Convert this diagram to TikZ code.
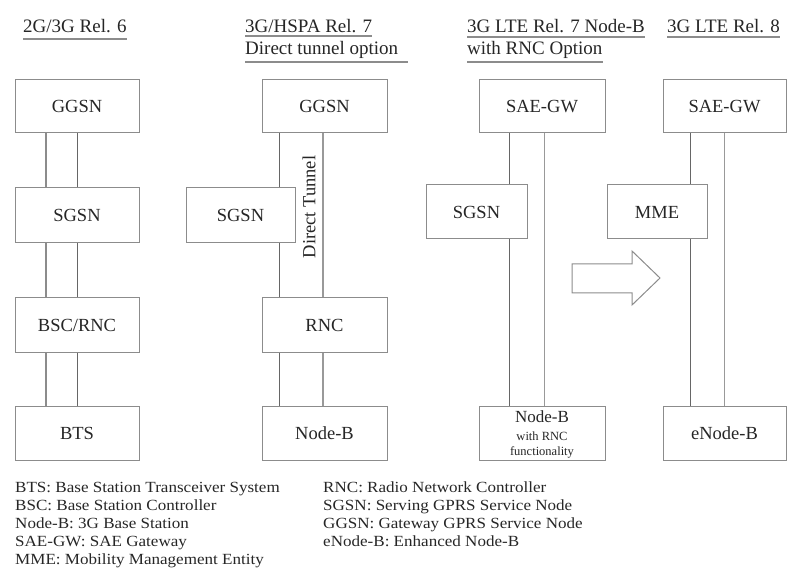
\documentclass[tikz,border=0pt]{standalone}
\usepackage{fontspec}
\setmainfont{Liberation Serif}
\newfontfamily\legendfont[FakeStretch=1.1]{Liberation Serif}
\begin{document}
\begin{tikzpicture}[x=1pt,y=-1pt,
  box/.style={draw=black!45, line width=1pt, inner sep=0pt, text=black!85,
    font=\fontsize{18.5}{20}\selectfont},
  title/.style={inner sep=0pt, anchor=base west, text=black!85,
    font=\fontsize{19}{20}\selectfont},
  uline/.style={draw=black!45, line width=1.2pt},
  link/.style={draw=black!60, line width=1pt},
  thick link/.style={draw=black!45, line width=2.8pt},
  light link/.style={draw=black!40, line width=1pt},
  legend/.style={inner sep=0pt, anchor=north west, align=left, text=black!85,
    font=\legendfont\fontsize{15.5}{18}\selectfont}]
\useasboundingbox (0,0) rectangle (787,569);

% titles
\node[title] (t1) at (23,33) {2G/3G Rel. 6};
\node[title] (t2a) at (245,33) {3G/HSPA Rel. 7};
\node[title] (t2b) at (245,55) {Direct tunnel option};
\node[title] (t3a) at (467,33) {3G LTE Rel. 7 Node-B};
\node[title] (t3b) at (467,55) {with RNC Option};
\node[title] (t4) at (667,33) {3G LTE Rel. 8};
\draw[uline] ([yshift=-6pt]t1.base west) -- ([yshift=-6pt]t1.base east);
\draw[uline] ([yshift=-3pt]t2a.base west) -- ([yshift=-3pt]t2a.base east);
\draw[uline] ([yshift=-7pt]t2b.base west) -- ([yshift=-7pt,xshift=10pt]t2b.base east);
\draw[uline] ([yshift=-4pt]t3a.base west) -- ([yshift=-4pt]t3a.base east);
\draw[uline] ([yshift=-7pt]t3b.base west) -- ([yshift=-7pt]t3b.base east);
\draw[uline] ([yshift=-4pt]t4.base west) -- ([yshift=-4pt]t4.base east);

% column 1
\node[box, minimum width=124pt, minimum height=53pt] (ggsn1) at (77,106.5) {GGSN};
\node[box, minimum width=124pt, minimum height=55pt] (sgsn1) at (77,215.5) {SGSN};
\node[box, minimum width=124pt, minimum height=54pt] (bsc1) at (77,325) {BSC/RNC};
\node[box, minimum width=124pt, minimum height=54pt] (bts1) at (77,433) {BTS};
\draw[thick link] (46,0 |- ggsn1.south) -- (46,0 |- sgsn1.north);
\draw[link] (ggsn1.south) -- (sgsn1.north);
\draw[thick link] (46,0 |- sgsn1.south) -- (46,0 |- bsc1.north);
\draw[link] (sgsn1.south) -- (bsc1.north);
\draw[thick link] (46,0 |- bsc1.south) -- (46,0 |- bts1.north);
\draw[link] (bsc1.south) -- (bts1.north);

% column 2
\node[box, minimum width=125pt, minimum height=53pt] (ggsn2) at (324.5,106.5) {GGSN};
\node[box, minimum width=109pt, minimum height=55pt] (sgsn2) at (240.5,215.5) {SGSN};
\node[box, minimum width=125pt, minimum height=54pt] (rnc2) at (324.5,325) {RNC};
\node[box, minimum width=125pt, minimum height=54pt] (nodeb2) at (324.5,433) {Node-B};
\draw[link] (279,0 |- ggsn2.south) -- (279,0 |- sgsn2.north);
\draw[link] (279,0 |- sgsn2.south) -- (279,0 |- rnc2.north);
\draw[light link, line width=1.8pt] (323,0 |- ggsn2.south) -- (323,0 |- rnc2.north);
\draw[link] (279,0 |- rnc2.south) -- (279,0 |- nodeb2.north);
\draw[light link, line width=1.5pt] (323,0 |- rnc2.south) -- (323,0 |- nodeb2.north);
\node[rotate=90, inner sep=0pt, text=black!85, font=\fontsize{18.5}{20}\selectfont] (dt) at (309,207) {Direct Tunnel};

% column 3
\node[box, minimum width=126pt, minimum height=53pt] (saegw3) at (542,106.5) {SAE-GW};
\node[box, minimum width=101pt, minimum height=54pt] (sgsn3) at (476.5,212) {SGSN};
\node[box, minimum width=126pt, minimum height=54pt] (nodeb3) at (542,433) {};
\node[inner sep=0pt, anchor=base, text=black!85, font=\fontsize{17}{18}\selectfont] (nb3a) at (542,422) {Node-B};
\node[inner sep=0pt, anchor=base, text=black!85, font=\fontsize{12.5}{13}\selectfont] (nb3b) at (542,440) {with RNC};
\node[inner sep=0pt, anchor=base, text=black!85, font=\fontsize{12.5}{13}\selectfont] (nb3c) at (542,455) {functionality};
\draw[link] (509,0 |- saegw3.south) -- (509,0 |- sgsn3.north);
\draw[link] (509,0 |- sgsn3.south) -- (509,0 |- nodeb3.north);
\draw[light link] (544,0 |- saegw3.south) -- (544,0 |- nodeb3.north);

% column 4
\node[box, minimum width=123pt, minimum height=53pt] (saegw4) at (724.5,106.5) {SAE-GW};
\node[box, minimum width=100pt, minimum height=54pt] (mme4) at (657,212) {MME};
\node[box, minimum width=123pt, minimum height=54pt] (enb4) at (724.5,433) {eNode-B};
\draw[link] (690,0 |- saegw4.south) -- (690,0 |- mme4.north);
\draw[link] (690,0 |- mme4.south) -- (690,0 |- enb4.north);
\draw[light link] (724,0 |- saegw4.south) -- (724,0 |- enb4.north);

% block arrow
\draw[draw=black!45, line width=1pt, fill=white]
  (572,264) -- (632,264) -- (632,251) -- (660,278) -- (632,305) -- (632,293) -- (572,293) -- cycle;

% legend
\node[legend] (leg1) at (15,482) {BTS: Base Station Transceiver System\\
BSC: Base Station Controller\\
Node-B: 3G Base Station\\
SAE-GW: SAE Gateway\\
MME: Mobility Management Entity};
\node[legend] (leg2) at (323,482) {RNC: Radio Network Controller\\
SGSN: Serving GPRS Service Node\\
GGSN: Gateway GPRS Service Node\\
eNode-B: Enhanced Node-B};
\end{tikzpicture}
\end{document}
